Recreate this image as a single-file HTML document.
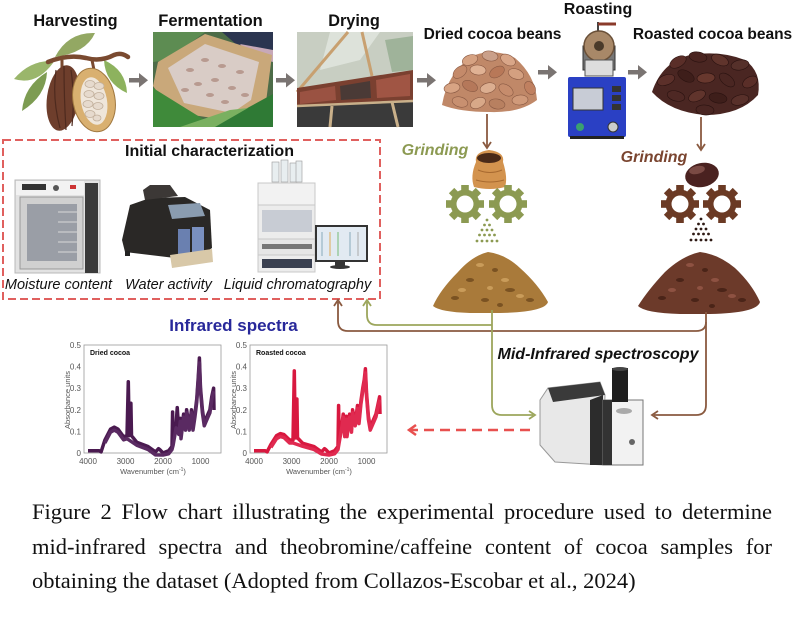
<!DOCTYPE html>
<html><head><meta charset="utf-8"><style>
html,body{margin:0;padding:0;background:#fff;}
#wrap{position:relative;width:800px;height:626px;overflow:hidden;background:#fff;}
svg{position:absolute;left:0;top:0;}
.cap{position:absolute;left:32px;top:495px;width:740px;font-family:"Liberation Serif",serif;font-size:22.5px;line-height:34.7px;text-align:justify;color:#111;}
</style></head><body><div id="wrap">
<svg width="800" height="490" viewBox="0 0 800 490" xmlns="http://www.w3.org/2000/svg" font-family="Liberation Sans, sans-serif">
<!-- titles -->
<g font-weight="bold" fill="#111" text-anchor="middle">
<text x="75.5" y="26" font-size="16.3">Harvesting</text>
<text x="210.5" y="26" font-size="16.5">Fermentation</text>
<text x="354" y="26" font-size="16.3">Drying</text>
<text x="492.5" y="39" font-size="15.5">Dried cocoa beans</text>
<text x="598" y="14" font-size="16">Roasting</text>
<text x="712.5" y="39" font-size="15.5">Roasted cocoa beans</text>
<text x="209.5" y="156" font-size="16">Initial characterization</text>
</g>
<!-- gray arrows -->
<g fill="#7a7472">
<rect x="129" y="78" width="11" height="4.5"/><polygon points="139,73 148,80.2 139,87.5"/>
<rect x="276" y="78" width="11" height="4.5"/><polygon points="286,73 295,80.2 286,87.5"/>
<rect x="417" y="78" width="11" height="4.5"/><polygon points="427,73 436,80.2 427,87.5"/>
<rect x="538" y="70" width="11" height="4.5"/><polygon points="548,65 557,72.2 548,79.5"/>
<rect x="628" y="70" width="11" height="4.5"/><polygon points="638,65 647,72.2 638,79.5"/>
</g>
<!-- cocoa pod illustration -->
<g>
<path d="M55,57 Q68,32 95,33 Q86,53 55,57 Z" fill="#93a863"/>
<path d="M53,61 Q30,60 14,79 Q36,86 53,63 Z" fill="#9ab66b"/>
<path d="M47,72 Q24,86 22,111 Q46,96 47,72 Z" fill="#7d9c52"/>
<path d="M104,60 Q126,70 127,93 Q105,83 104,60 Z" fill="#8db25e"/>
<path d="M48,62 Q68,54 86,58 Q101,62 114,55 Q121,52 128,57" stroke="#7a4a30" stroke-width="4.5" fill="none" stroke-linecap="round"/>
<path d="M62,60 L62,68 M92,60 L94,70" stroke="#7a4a30" stroke-width="3"/>
<ellipse cx="63" cy="98" rx="16" ry="33" transform="rotate(8 63 98)" fill="#6e3e2c"/>
<path d="M56,70 Q52,98 60,128 M64,66 Q64,98 66,130 M71,70 Q75,98 72,126" stroke="#4e2a1e" stroke-width="1.2" fill="none"/>
<ellipse cx="94" cy="100" rx="21" ry="32" transform="rotate(-10 94 100)" fill="#d9b070" stroke="#a07840"/>
<ellipse cx="94" cy="101" rx="13" ry="24" transform="rotate(-10 94 101)" fill="#efe6da"/>
<g fill="#e6dacd" stroke="#c2b09c" stroke-width="0.8">
<ellipse cx="90" cy="84" rx="5" ry="3.5"/><ellipse cx="99" cy="86" rx="5" ry="3.5"/>
<ellipse cx="89" cy="94" rx="5" ry="3.5"/><ellipse cx="99" cy="96" rx="5" ry="3.5"/>
<ellipse cx="88" cy="104" rx="5" ry="3.5"/><ellipse cx="98" cy="106" rx="5" ry="3.5"/>
<ellipse cx="90" cy="114" rx="5" ry="3.5"/><ellipse cx="97" cy="118" rx="4" ry="3"/>
</g>
</g>
<!-- fermentation photo -->
<g>
<rect x="153" y="32" width="120" height="95" fill="#4d6c48"/>
<polygon points="153,32 205,32 168,60 153,62" fill="#5d8c52"/>
<polygon points="222,32 273,32 273,52 238,46" fill="#2b3550"/>
<polygon points="240,44 273,50 273,62 250,56" fill="#c7a8b8"/>
<polygon points="158,62 205,34 272,55 266,102 240,122 172,112 153,86" fill="#c9a87a"/>
<polygon points="168,68 205,44 259,62 251,100 232,113 184,103" fill="#d9ccc6"/>
<g fill="#b89a90">
<ellipse cx="190" cy="70" rx="4" ry="2"/><ellipse cx="205" cy="60" rx="4" ry="2"/><ellipse cx="222" cy="66" rx="4" ry="2"/><ellipse cx="240" cy="72" rx="4" ry="2"/>
<ellipse cx="198" cy="84" rx="4" ry="2"/><ellipse cx="215" cy="80" rx="4" ry="2"/><ellipse cx="232" cy="88" rx="4" ry="2"/><ellipse cx="210" cy="95" rx="4" ry="2"/>
<ellipse cx="185" cy="90" rx="4" ry="2"/><ellipse cx="245" cy="95" rx="4" ry="2"/><ellipse cx="225" cy="102" rx="4" ry="2"/>
</g>
<polygon points="153,88 182,106 216,127 153,127" fill="#3f8a3a"/>
<polygon points="205,127 240,112 273,94 273,127" fill="#2f7a35"/>
<polygon points="180,127 230,110 248,108 215,127" fill="#7ab060"/>
</g>
<!-- drying photo -->
<g>
<rect x="297" y="32" width="116" height="95" fill="#8a8a80"/>
<polygon points="297,32 413,32 413,72 297,90" fill="#c8cec2"/>
<polygon points="330,32 380,32 360,60 320,70" fill="#dde2da"/>
<polygon points="385,40 413,36 413,70 392,72" fill="#9fb39a"/>
<line x1="297" y1="92" x2="348" y2="32" stroke="#c8a070" stroke-width="3"/>
<line x1="362" y1="32" x2="372" y2="76" stroke="#c8a070" stroke-width="3"/>
<polygon points="297,88 413,70 413,102 297,106" fill="#7a4030"/>
<polygon points="300,92 335,86 336,100 300,104" fill="#9a5242"/>
<polygon points="340,86 370,81 371,98 341,100" fill="#4a3a36"/>
<polygon points="376,80 410,74 410,96 377,98" fill="#a05544"/>
<polygon points="297,106 413,100 413,127 297,127" fill="#3a3a3a"/>
<line x1="332" y1="106" x2="330" y2="127" stroke="#c9b08a" stroke-width="3"/>
<line x1="392" y1="102" x2="398" y2="127" stroke="#c9b08a" stroke-width="3"/>
<line x1="297" y1="106" x2="413" y2="101" stroke="#c9b08a" stroke-width="2.5"/>
</g>
<!-- dried beans -->
<g stroke="#8a5a44" stroke-width="0.6">
<path d="M442,105 Q448,70 475,55 Q495,48 515,58 Q535,75 537,100 Q520,113 490,112 Q460,112 442,105 Z" fill="#c08868" stroke="none"/>
<ellipse cx="470" cy="60" rx="8" ry="5" transform="rotate(-20 470 60)" fill="#d6a282"/>
<ellipse cx="490" cy="56" rx="8" ry="5" transform="rotate(10 490 56)" fill="#caa08a"/>
<ellipse cx="508" cy="60" rx="8" ry="5" transform="rotate(30 508 60)" fill="#d9a688"/>
<ellipse cx="460" cy="72" rx="8" ry="5" transform="rotate(-40 460 72)" fill="#c48a6a"/>
<ellipse cx="478" cy="70" rx="8" ry="5" transform="rotate(5 478 70)" fill="#e0b294"/>
<ellipse cx="497" cy="72" rx="8" ry="5" transform="rotate(-30 497 72)" fill="#b87858"/>
<ellipse cx="516" cy="74" rx="8" ry="5" transform="rotate(20 516 74)" fill="#d4a080"/>
<ellipse cx="530" cy="88" rx="7" ry="5" transform="rotate(60 530 88)" fill="#c08060"/>
<ellipse cx="452" cy="88" rx="8" ry="5" transform="rotate(-10 452 88)" fill="#d8a484"/>
<ellipse cx="470" cy="86" rx="8" ry="5" transform="rotate(25 470 86)" fill="#b5785a"/>
<ellipse cx="488" cy="88" rx="8" ry="5" transform="rotate(-15 488 88)" fill="#dcae90"/>
<ellipse cx="506" cy="90" rx="8" ry="5" transform="rotate(35 506 90)" fill="#c68c6c"/>
<ellipse cx="520" cy="100" rx="8" ry="5" transform="rotate(-5 520 100)" fill="#d09a7a"/>
<ellipse cx="460" cy="102" rx="8" ry="5" transform="rotate(15 460 102)" fill="#c89070"/>
<ellipse cx="478" cy="103" rx="8" ry="5" transform="rotate(-25 478 103)" fill="#d8a888"/>
<ellipse cx="497" cy="104" rx="8" ry="5" transform="rotate(10 497 104)" fill="#b88060"/>
</g>
<!-- roaster -->
<g>
<line x1="598" y1="22" x2="598" y2="32" stroke="#444" stroke-width="2"/>
<line x1="598" y1="24" x2="616" y2="24" stroke="#8a3a2a" stroke-width="3"/>
<rect x="583" y="46" width="32" height="24" fill="#777" stroke="#333"/>
<circle cx="599" cy="46" r="15" fill="#a88868" stroke="#6a5038" stroke-width="1.5"/>
<circle cx="599" cy="46" r="5" fill="#4a3a2a"/>
<rect x="585" y="60" width="28" height="16" fill="#ddd" stroke="#555"/>
<rect x="568" y="77" width="58" height="60" rx="2" fill="#2a40c4"/>
<rect x="573" y="88" width="30" height="22" fill="#c8ccd6" stroke="#333"/>
<rect x="612" y="86" width="9" height="6" fill="#333"/><rect x="612" y="95" width="9" height="6" fill="#333"/><rect x="612" y="104" width="9" height="6" fill="#333"/>
<circle cx="580" cy="127" r="4" fill="#3aa070"/>
<circle cx="613" cy="127" r="5" fill="#ccc" stroke="#333"/>
<rect x="570" y="136" width="54" height="3" fill="#222"/>
</g>
<!-- roasted beans -->
<g stroke="#2a1210" stroke-width="0.6">
<path d="M652,92 Q662,62 690,55 Q720,50 745,60 Q762,72 758,95 Q740,115 705,115 Q670,112 652,92 Z" fill="#4a2622" stroke="none"/>
<ellipse cx="678" cy="62" rx="9" ry="5" transform="rotate(-30 678 62)" fill="#5a2e28"/>
<ellipse cx="698" cy="57" rx="9" ry="5" transform="rotate(10 698 57)" fill="#4a2420"/>
<ellipse cx="720" cy="60" rx="9" ry="5" transform="rotate(25 720 60)" fill="#60342c"/>
<ellipse cx="740" cy="65" rx="9" ry="5" transform="rotate(-10 740 65)" fill="#55302a"/>
<ellipse cx="666" cy="80" rx="9" ry="5" transform="rotate(-20 666 80)" fill="#5c302a"/>
<ellipse cx="686" cy="76" rx="9" ry="5" transform="rotate(30 686 76)" fill="#3e1e1a"/>
<ellipse cx="706" cy="78" rx="9" ry="5" transform="rotate(-5 706 78)" fill="#68382e"/>
<ellipse cx="727" cy="80" rx="9" ry="5" transform="rotate(40 727 80)" fill="#4a2622"/>
<ellipse cx="750" cy="82" rx="8" ry="5" transform="rotate(-30 750 82)" fill="#5a2e28"/>
<ellipse cx="676" cy="96" rx="9" ry="5" transform="rotate(15 676 96)" fill="#4e2824"/>
<ellipse cx="697" cy="96" rx="9" ry="5" transform="rotate(-25 697 96)" fill="#60342c"/>
<ellipse cx="718" cy="98" rx="9" ry="5" transform="rotate(10 718 98)" fill="#3e1e1a"/>
<ellipse cx="740" cy="100" rx="9" ry="5" transform="rotate(-15 740 100)" fill="#58302a"/>
<ellipse cx="705" cy="110" rx="9" ry="5" transform="rotate(5 705 110)" fill="#4a2622"/>
</g>
<!-- dashed box -->
<rect x="3" y="140" width="377" height="159" fill="none" stroke="#e0605e" stroke-width="2" stroke-dasharray="8 4"/>
<!-- oven -->
<g>
<rect x="15" y="180" width="85" height="93" fill="#e2e2e2" stroke="#b8b8b8"/>
<rect x="16" y="181" width="68" height="14" fill="#f2f2f2"/>
<rect x="22" y="184" width="24" height="6" fill="#333"/>
<circle cx="56" cy="188" r="3" fill="#555"/>
<rect x="70" y="185" width="6" height="4" fill="#c33"/>
<rect x="20" y="197" width="63" height="72" fill="#d0d0d0" stroke="#999"/>
<rect x="27" y="204" width="50" height="57" fill="#9a9ea6"/>
<g stroke="#d8d8d8" stroke-width="1"><line x1="58" y1="212" x2="77" y2="212"/><line x1="58" y1="222" x2="77" y2="222"/><line x1="58" y1="232" x2="77" y2="232"/><line x1="58" y1="242" x2="77" y2="242"/><line x1="58" y1="252" x2="77" y2="252"/></g>
<rect x="85" y="183" width="13" height="90" fill="#3a3a3a"/>
</g>
<!-- water activity -->
<g>
<polygon points="122,240 130,205 150,198 185,197 210,210 212,248 200,256 175,258 125,252" fill="#2a2826"/>
<polygon points="143,190 150,185 170,185 178,196 145,200" fill="#3c3836"/>
<polygon points="168,205 200,203 205,216 172,219" fill="#8a9cb0"/>
<rect x="178" y="229" width="12" height="25" fill="#6a80b0"/>
<rect x="192" y="227" width="12" height="25" fill="#7a90c0"/>
<polygon points="170,255 212,249 213,262 172,268" fill="#d8c8a8"/>
<rect x="125" y="251" width="5" height="5" fill="#222"/>
</g>
<!-- LC -->
<g>
<rect x="272" y="162" width="7" height="20" fill="#e8eef0" stroke="#999" stroke-width="0.6"/>
<rect x="281" y="160" width="7" height="22" fill="#e8eef0" stroke="#999" stroke-width="0.6"/>
<rect x="290" y="163" width="7" height="19" fill="#e8eef0" stroke="#999" stroke-width="0.6"/>
<rect x="296" y="161" width="6" height="21" fill="#e8eef0" stroke="#999" stroke-width="0.6"/>
<rect x="258" y="183" width="57" height="22" fill="#f2f2f2" stroke="#c8c8c8"/>
<rect x="258" y="205" width="57" height="34" fill="#ececec" stroke="#c8c8c8"/>
<rect x="262" y="210" width="50" height="22" fill="#c8ccd4"/>
<rect x="258" y="239" width="57" height="16" fill="#e6e6e6" stroke="#c8c8c8"/>
<rect x="262" y="244" width="50" height="5" fill="#777"/>
<rect x="258" y="255" width="57" height="17" fill="#ececec" stroke="#c8c8c8"/>
<rect x="262" y="259" width="50" height="9" fill="#3a4050"/>
<rect x="315" y="225" width="53" height="37" fill="#333"/>
<rect x="317" y="227" width="49" height="33" fill="#e2eaf2"/>
<g stroke-width="1"><line x1="322" y1="232" x2="322" y2="256" stroke="#8ab"/><line x1="330" y1="232" x2="330" y2="256" stroke="#da5"/><line x1="338" y1="232" x2="338" y2="256" stroke="#7b7"/><line x1="350" y1="232" x2="350" y2="256" stroke="#8ab"/><line x1="358" y1="232" x2="358" y2="256" stroke="#aaa"/></g>
<rect x="335" y="262" width="10" height="4" fill="#333"/>
<ellipse cx="340" cy="267" rx="10" ry="2" fill="#333"/>
</g>
<!-- italic labels -->
<g font-style="italic" fill="#111" font-size="14.5" text-anchor="middle">
<text x="58.5" y="289">Moisture content</text>
<text x="168.5" y="289">Water activity</text>
<text x="297.5" y="289">Liquid chromatography</text>
</g>
<!-- grinding labels -->
<text x="435" y="155" font-size="16" font-weight="bold" font-style="italic" fill="#8c9a52" text-anchor="middle">Grinding</text>
<text x="654" y="162" font-size="16" font-weight="bold" font-style="italic" fill="#7a4530" text-anchor="middle">Grinding</text>
<!-- vertical arrows from beans -->
<g stroke="#8a5a40" stroke-width="1.8" fill="none">
<line x1="487" y1="114" x2="487" y2="147"/><polyline points="483,142 487,148 491,142"/>
<line x1="701" y1="117" x2="701" y2="149"/><polyline points="697,144 701,150 705,144"/>
</g>
<!-- sack -->
<g>
<path d="M476,162 Q474,152 489,150 Q505,152 503,162 Q508,178 505,187 Q490,191 474,187 Q470,176 476,162 Z" fill="#d3934e"/>
<ellipse cx="489" cy="158" rx="12" ry="5" fill="#4a2a18"/>
<path d="M478,170 Q490,175 502,170 M476,180 Q490,184 504,180" stroke="#a86a30" stroke-width="1" fill="none"/>
</g>
<!-- bean right -->
<ellipse cx="702" cy="175" rx="17" ry="12" transform="rotate(-12 702 175)" fill="#4a2220"/>
<ellipse cx="697" cy="170" rx="8" ry="4" transform="rotate(-12 697 170)" fill="#7a4a44"/>
<!-- gears -->
<g fill="#8c9a52">
<g transform="translate(465,204)"><circle r="14.5"/><rect x="-3.8" y="-19" width="7.6" height="7" transform="rotate(0)"/><rect x="-3.8" y="-19" width="7.6" height="7" transform="rotate(45)"/><rect x="-3.8" y="-19" width="7.6" height="7" transform="rotate(90)"/><rect x="-3.8" y="-19" width="7.6" height="7" transform="rotate(135)"/><rect x="-3.8" y="-19" width="7.6" height="7" transform="rotate(180)"/><rect x="-3.8" y="-19" width="7.6" height="7" transform="rotate(225)"/><rect x="-3.8" y="-19" width="7.6" height="7" transform="rotate(270)"/><rect x="-3.8" y="-19" width="7.6" height="7" transform="rotate(315)"/><circle r="8.5" fill="#fff"/></g>
<g transform="translate(508,204)"><circle r="14.5"/><rect x="-3.8" y="-19" width="7.6" height="7" transform="rotate(0)"/><rect x="-3.8" y="-19" width="7.6" height="7" transform="rotate(45)"/><rect x="-3.8" y="-19" width="7.6" height="7" transform="rotate(90)"/><rect x="-3.8" y="-19" width="7.6" height="7" transform="rotate(135)"/><rect x="-3.8" y="-19" width="7.6" height="7" transform="rotate(180)"/><rect x="-3.8" y="-19" width="7.6" height="7" transform="rotate(225)"/><rect x="-3.8" y="-19" width="7.6" height="7" transform="rotate(270)"/><rect x="-3.8" y="-19" width="7.6" height="7" transform="rotate(315)"/><circle r="8.5" fill="#fff"/></g>
<circle cx="487" cy="220" r="1.4"/>
<circle cx="484.5" cy="225" r="1.4"/><circle cx="489.5" cy="225" r="1.4"/>
<circle cx="482" cy="230" r="1.4"/><circle cx="487" cy="230" r="1.4"/><circle cx="492" cy="230" r="1.4"/>
<circle cx="479.5" cy="235" r="1.4"/><circle cx="484.5" cy="235" r="1.4"/><circle cx="489.5" cy="235" r="1.4"/><circle cx="494.5" cy="235" r="1.4"/>
<circle cx="477" cy="241" r="1.4"/><circle cx="482" cy="241" r="1.4"/><circle cx="487" cy="241" r="1.4"/><circle cx="492" cy="241" r="1.4"/><circle cx="497" cy="241" r="1.4"/>
</g>
<g fill="#6b3a24">
<g transform="translate(680,204)"><circle r="14.5"/><rect x="-3.8" y="-19" width="7.6" height="7" transform="rotate(0)"/><rect x="-3.8" y="-19" width="7.6" height="7" transform="rotate(45)"/><rect x="-3.8" y="-19" width="7.6" height="7" transform="rotate(90)"/><rect x="-3.8" y="-19" width="7.6" height="7" transform="rotate(135)"/><rect x="-3.8" y="-19" width="7.6" height="7" transform="rotate(180)"/><rect x="-3.8" y="-19" width="7.6" height="7" transform="rotate(225)"/><rect x="-3.8" y="-19" width="7.6" height="7" transform="rotate(270)"/><rect x="-3.8" y="-19" width="7.6" height="7" transform="rotate(315)"/><circle r="8.5" fill="#fff"/></g>
<g transform="translate(722,204)"><circle r="14.5"/><rect x="-3.8" y="-19" width="7.6" height="7" transform="rotate(0)"/><rect x="-3.8" y="-19" width="7.6" height="7" transform="rotate(45)"/><rect x="-3.8" y="-19" width="7.6" height="7" transform="rotate(90)"/><rect x="-3.8" y="-19" width="7.6" height="7" transform="rotate(135)"/><rect x="-3.8" y="-19" width="7.6" height="7" transform="rotate(180)"/><rect x="-3.8" y="-19" width="7.6" height="7" transform="rotate(225)"/><rect x="-3.8" y="-19" width="7.6" height="7" transform="rotate(270)"/><rect x="-3.8" y="-19" width="7.6" height="7" transform="rotate(315)"/><circle r="8.5" fill="#fff"/></g>
</g>
<g fill="#2e1a14">
<circle cx="701" cy="219" r="1.4"/>
<circle cx="698.5" cy="224" r="1.4"/><circle cx="703.5" cy="224" r="1.4"/>
<circle cx="696" cy="229" r="1.4"/><circle cx="701" cy="229" r="1.4"/><circle cx="706" cy="229" r="1.4"/>
<circle cx="693.5" cy="234" r="1.4"/><circle cx="698.5" cy="234" r="1.4"/><circle cx="703.5" cy="234" r="1.4"/><circle cx="708.5" cy="234" r="1.4"/>
<circle cx="691" cy="240" r="1.4"/><circle cx="696" cy="240" r="1.4"/><circle cx="701" cy="240" r="1.4"/><circle cx="706" cy="240" r="1.4"/><circle cx="711" cy="240" r="1.4"/>
</g>
<!-- powder piles -->
<path d="M433,306 Q440,290 458,272 Q472,256 488,252 Q505,254 520,268 Q538,284 548,302 Q545,312 500,313 L470,313 Q440,312 433,306 Z" fill="#a97a3a"/>
<g fill="#7a5222"><ellipse cx="470" cy="280" rx="4" ry="2"/><ellipse cx="495" cy="270" rx="3" ry="2"/><ellipse cx="510" cy="290" rx="5" ry="2"/><ellipse cx="455" cy="298" rx="4" ry="2"/><ellipse cx="485" cy="300" rx="4" ry="2"/><ellipse cx="530" cy="300" rx="4" ry="2"/><ellipse cx="500" cy="305" rx="3" ry="2"/></g>
<g fill="#c99c5a"><ellipse cx="480" cy="265" rx="4" ry="2"/><ellipse cx="505" cy="280" rx="4" ry="2"/><ellipse cx="462" cy="290" rx="4" ry="2"/><ellipse cx="520" cy="296" rx="4" ry="2"/><ellipse cx="490" cy="288" rx="3" ry="2"/></g>
<path d="M638,306 Q648,290 665,272 Q682,256 700,252 Q718,254 735,268 Q752,284 760,302 Q757,313 710,314 L680,314 Q645,313 638,306 Z" fill="#6c3a2a"/>
<g fill="#4a2418"><ellipse cx="680" cy="280" rx="4" ry="2"/><ellipse cx="705" cy="270" rx="3" ry="2"/><ellipse cx="722" cy="290" rx="5" ry="2"/><ellipse cx="662" cy="298" rx="4" ry="2"/><ellipse cx="695" cy="300" rx="4" ry="2"/><ellipse cx="742" cy="300" rx="4" ry="2"/><ellipse cx="712" cy="306" rx="3" ry="2"/></g>
<g fill="#8e5242"><ellipse cx="690" cy="265" rx="4" ry="2"/><ellipse cx="715" cy="280" rx="4" ry="2"/><ellipse cx="672" cy="290" rx="4" ry="2"/><ellipse cx="732" cy="296" rx="4" ry="2"/><ellipse cx="700" cy="288" rx="3" ry="2"/></g>
<!-- connectors -->
<g fill="none" stroke-width="1.8">
<path d="M706,312 V405 Q706,415 696,415 H654" stroke="#8a5a40"/>
<polyline points="658,411 652,415 658,419" stroke="#8a5a40"/>
<path d="M706,322 Q706,331 696,331 H348 Q338,331 338,321 V302" stroke="#8a5a40"/>
<polyline points="334,306 338,300 342,306" stroke="#8a5a40"/>
<path d="M492,310 V405 Q492,415 502,415 H533" stroke="#9ca65c"/>
<polyline points="529,411 535,415 529,419" stroke="#9ca65c"/>
<path d="M492,325 H377 Q367,325 367,315 V302" stroke="#9ca65c"/>
<polyline points="363,306 367,300 371,306" stroke="#9ca65c"/>
</g>
<!-- red dashed arrow -->
<line x1="530" y1="430" x2="411" y2="430" stroke="#e8504f" stroke-width="2.5" stroke-dasharray="10 6"/>
<polyline points="416,425 409,430 416,435" fill="none" stroke="#e8504f" stroke-width="2.5"/>
<!-- spectrometer label & device -->
<text x="598" y="359" font-size="16" font-weight="bold" font-style="italic" fill="#111" text-anchor="middle">Mid-Infrared spectroscopy</text>
<g>
<polygon points="540,400 548,388 600,382 605,395 603,465 555,462 540,445" fill="#e8e8e8" stroke="#999"/>
<polygon points="548,388 600,382 605,395 553,402" fill="#3a3a3a"/>
<polygon points="590,400 603,395 603,465 590,465" fill="#2c2c2c"/>
<rect x="603" y="400" width="40" height="65" fill="#f2f2f2" stroke="#777"/>
<rect x="603" y="400" width="9" height="65" fill="#333"/>
<rect x="612" y="368" width="16" height="34" fill="#1e1e1e"/>
<ellipse cx="620" cy="369" rx="8" ry="2" fill="#444"/>
<ellipse cx="624" cy="411" rx="8" ry="3" fill="#aaa"/>
<circle cx="632" cy="442" r="3" fill="#666"/>
</g>
<!-- Infrared spectra title -->
<text x="233.5" y="331" font-size="17" font-weight="bold" fill="#28289a" text-anchor="middle">Infrared spectra</text>
<!-- plots -->
<g font-size="8" fill="#555">
<rect x="84" y="345" width="137" height="108" fill="none" stroke="#999" stroke-width="0.8"/>
<rect x="250" y="345" width="137" height="108" fill="none" stroke="#999" stroke-width="0.8"/>
<g text-anchor="end">
<text x="81" y="348">0.5</text><text x="81" y="369.6">0.4</text><text x="81" y="391.2">0.3</text><text x="81" y="412.8">0.2</text><text x="81" y="434.4">0.1</text><text x="81" y="456">0</text>
<text x="247" y="348">0.5</text><text x="247" y="369.6">0.4</text><text x="247" y="391.2">0.3</text><text x="247" y="412.8">0.2</text><text x="247" y="434.4">0.1</text><text x="247" y="456">0</text>
</g>
<g text-anchor="middle">
<text x="88" y="464">4000</text><text x="125.5" y="464">3000</text><text x="163" y="464">2000</text><text x="200.5" y="464">1000</text>
<text x="254" y="464">4000</text><text x="291.5" y="464">3000</text><text x="329" y="464">2000</text><text x="366.5" y="464">1000</text>
<text x="153" y="474" font-size="7.5">Wavenumber (cm<tspan font-size="5" dy="-3">-1</tspan><tspan dy="3">)</tspan></text>
<text x="319" y="474" font-size="7.5">Wavenumber (cm<tspan font-size="5" dy="-3">-1</tspan><tspan dy="3">)</tspan></text>
<text x="0" y="0" font-size="7.5" transform="translate(70,400) rotate(-90)">Absorbance units</text>
<text x="0" y="0" font-size="7.5" transform="translate(236,400) rotate(-90)">Absorbance units</text>
</g>
<text x="90" y="355" font-size="7" font-weight="bold" fill="#111">Dried cocoa</text>
<text x="256" y="355" font-size="7" font-weight="bold" fill="#111">Roasted cocoa</text>
</g>
<g fill="none" stroke="#4a1a50" stroke-width="3.5" stroke-linejoin="round">
<polyline points="88,450.8 99.25,450.8 101.1,451.9 104.9,440 110.5,429.2 114.25,427.1 118,429.2 123.6,436.8 127,435.7 128.3,381.7 129.25,435.7 130.4,433.6 130.9,403.3 131.5,435.7 136.75,442.2 148,446.5 155.5,451.9 158.5,448.7 160,449.8 163,453 168.6,450.8 172,446.5 172.6,412 173.1,442.2 176.1,424.9 177.25,407.6 178.75,431.4 180.25,418.4 181,435.7 183.6,414.1 185.5,427.1 186.6,409.8 189.25,427.1 191.5,409.8 193,427.1 194.9,414.1 196.75,399 198.25,377.4 199.4,358 200.5,388.2 202.4,409.8 204.25,422.8 206.1,418.4 208,414.1 209.9,409.8 211.75,396.8 213.6,388.2 214,410"/>
<polyline transform="translate(0,3)" stroke="#5a2a62" points="104.9,440 110.5,429.2 114.25,427.1 118,429.2 123.6,436.8 127,435.7 136.75,442.2 148,446.5 155.5,451.9 163,452 168.6,450.8 172,446.5 173.1,442.2 176.1,424.9 178.75,431.4 180.25,418.4 181,435.7 183.6,414.1 185.5,427.1 186.6,409.8 189.25,427.1 191.5,409.8 193,427.1 194.9,414.1 196.75,399 198.25,377.4 199.4,360 200.5,388.2 202.4,409.8 204.25,422.8 206.1,418.4 208,414.1 209.9,409.8 211.75,396.8 213.6,388.2"/>
</g>
<g fill="none" stroke="#d8183f" stroke-width="3.5" stroke-linejoin="round">
<polyline points="254,450.8 265.25,450.8 267.1,451.9 270.9,444.4 276.5,435.7 280.25,433.6 284,434.6 289.6,440 293,440 294.3,370.9 295.25,437.9 296.4,437.9 296.9,399 297.5,437.9 302.75,443.3 314,446.5 321.5,451.9 324.5,448.7 326,449.8 329,453 334.6,450.8 338,446.5 338.6,405.5 339.1,440 342.1,422.8 343.25,414.1 344.75,433.6 346.25,416.3 347,433.6 349.6,414.1 351.5,429.2 352.6,409.8 355.25,422.8 357.5,405.5 359,420.6 360.9,401.2 362.75,388.2 364.25,379.6 365.4,368.8 366.5,392.5 368.4,416.3 370.25,427.1 372.1,422.8 374,418.4 375.9,414.1 377.75,405.5 379.6,396.8 380,414"/>
<polyline transform="translate(0,3)" stroke="#e02a50" points="270.9,444.4 276.5,435.7 280.25,433.6 284,434.6 289.6,440 293,440 302.75,443.3 314,446.5 321.5,451 329,452 334.6,450.8 338,446.5 339.1,440 342.1,422.8 343.25,414.1 344.75,433.6 346.25,416.3 347,433.6 349.6,414.1 351.5,429.2 352.6,409.8 355.25,422.8 357.5,405.5 359,420.6 360.9,401.2 362.75,388.2 364.25,379.6 365.4,370 366.5,392.5 368.4,416.3 370.25,427.1 372.1,422.8 374,418.4 375.9,414.1 377.75,405.5 379.6,396.8"/>
</g>
</svg>
<div class="cap">Figure 2 Flow chart illustrating the experimental procedure used to determine mid-infrared spectra and theobromine/caffeine content of cocoa samples for obtaining the dataset (Adopted from Collazos-Escobar et al., 2024)</div>
</div></body></html>
